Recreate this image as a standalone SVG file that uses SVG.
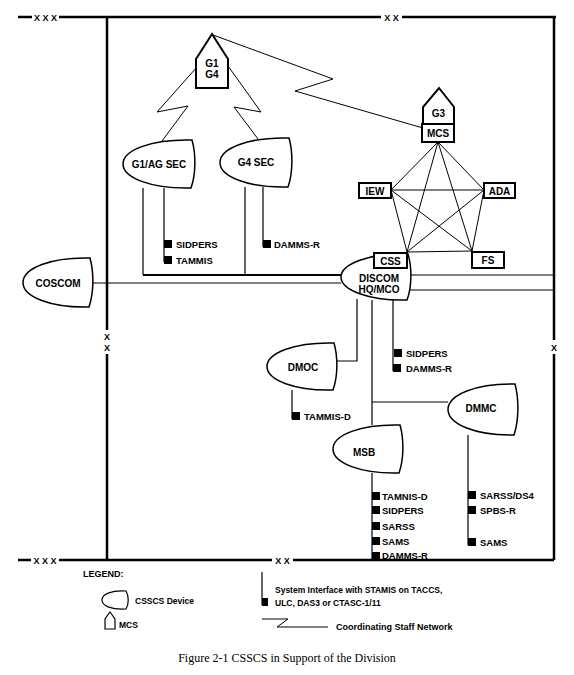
<svg xmlns="http://www.w3.org/2000/svg" width="574" height="675" viewBox="0 0 574 675">
<style>
.frame{stroke:#000;stroke-width:2.5;fill:none}
.dev{fill:#fff;stroke:#000;stroke-width:1.5}
.mcs{fill:#fff;stroke:#000;stroke-width:2}
.box{fill:#fff;stroke:#000;stroke-width:2}
.ln{stroke:#000;stroke-width:1.2;fill:none}
.lnb{stroke:#000;stroke-width:2;fill:none}
.net{stroke:#000;stroke-width:1;fill:none}
.sq{fill:#000}
.lbl{font-family:"Liberation Sans",Arial,sans-serif;font-weight:bold;font-size:9.5px;fill:#000}
.nt{font-family:"Liberation Sans",Arial,sans-serif;font-weight:bold;font-size:10px;fill:#000;text-anchor:middle}
.xm{font-family:"Liberation Sans",Arial,sans-serif;font-weight:bold;font-size:9px;fill:#000;text-anchor:middle}
.leg{font-family:"Liberation Sans",Arial,sans-serif;font-weight:bold;font-size:8.5px;fill:#000}
.cap{font-family:"Liberation Serif","Times New Roman",serif;font-size:12px;fill:#000;text-anchor:middle}
</style>
<rect width="574" height="675" fill="#fff"/>

<g id="frame">
<path class="frame" d="M18,17H32M59,17H381M402,17H556"/>
<path class="frame" d="M18,560H31M59,560H272M293,560H554"/>
<path class="frame" d="M107,17V330M107,354V560"/>
<path class="frame" d="M554,17V340M554,354V560"/>
<text class="xm" x="45.5" y="20.5">X X X</text>
<text class="xm" x="391.5" y="20.5">X X</text>
<text class="xm" x="45" y="563.5">X X X</text>
<text class="xm" x="282.5" y="563.5">X X</text>
<text class="xm" x="107" y="340">X</text>
<text class="xm" x="107" y="351">X</text>
<text class="xm" x="554" y="350.5">X</text>
</g>

<g id="connectors">
<!-- coordinating staff network -->
<path class="net" d="M213,35L333,79L295,91L423,128"/>
<path class="net" d="M197,67L157,112L188,106L162,141"/>
<path class="net" d="M228,66L261,112L234,107L258,139"/>
<!-- MCS pentagon mesh -->
<path class="net" d="M438,142L391,190M438,142L484,190M438,142L407,252M438,142L472,251M391,190L484,190M391,190L407,252M391,190L472,251M484,190L407,252M484,190L472,251M407,252L472,251"/>
<!-- staff lines -->
<path class="ln" d="M93,283H341"/>
<path class="ln" d="M143,188V275M245,187V275"/>
<path class="lnb" d="M143,275H341"/>
<path class="ln" d="M411,275H554M409,290H554"/>
<path class="ln" d="M357,299V361H337"/>
<path class="ln" d="M372,300V425M372,402H448"/>
<!-- system interfaces -->
<path class="ln" d="M164,188V262"/>
<path class="ln" d="M263,187V247"/>
<path class="ln" d="M393,300V371"/>
<path class="ln" d="M292,390V419"/>
<path class="ln" d="M372,473V560"/>
<path class="ln" d="M468,435V545"/>
</g>

<g id="coscom">
<path class="dev" d="M90,258C51,257 23,268 23,282.5C23,297 51,308 89,307C94,292 94,273 90,258Z"/>
<text class="nt" x="58" y="286.5">COSCOM</text>
</g>

<g id="g1g4">
<polygon class="mcs" points="212,34 228,59 228,88 196,88 196,59"/>
<text class="nt" x="212" y="67">G1</text>
<text class="nt" x="212" y="78">G4</text>
</g>

<g id="g1ag-sec">
<path class="dev" d="M192,140C152,139 123,150 123,164C123,178 152,189 191,188C196,174 196,154 192,140Z"/>
<text class="nt" x="159" y="168">G1/AG SEC</text>
<rect class="sq" x="164" y="240" width="8" height="8"/>
<text class="lbl" x="176" y="247.5">SIDPERS</text>
<rect class="sq" x="164" y="256" width="8" height="8"/>
<text class="lbl" x="176" y="263.5">TAMMIS</text>
</g>

<g id="g4-sec">
<path class="dev" d="M289,138C249,137 220,148 220,162.5C220,177 249,188 288,187C293,173 293,152 289,138Z"/>
<text class="nt" x="256" y="166">G4 SEC</text>
<rect class="sq" x="263" y="240" width="8" height="8"/>
<text class="lbl" x="274" y="247.5">DAMMS-R</text>
</g>

<g id="g3-mcs">
<path class="mcs" d="M439,88L454,107V124H423V107Z"/>
<rect class="box" x="422" y="124" width="32" height="18"/>
<text class="nt" x="438.5" y="117">G3</text>
<text class="nt" x="438" y="137">MCS</text>
</g>

<g id="iew">
<rect class="box" x="359" y="183" width="32" height="15"/>
<text class="nt" x="375" y="194.5">IEW</text>
</g>

<g id="ada">
<rect class="box" x="484" y="183" width="31" height="15"/>
<text class="nt" x="499.5" y="194.5">ADA</text>
</g>

<g id="discom">
<path class="dev" d="M408,254C369,253 341,264 341,277C341,290 369,301 407,300C412,287 412,267 408,254Z"/>
<text class="nt" x="379" y="281.5">DISCOM</text>
<text class="nt" x="379" y="293">HQ/MCO</text>
<rect class="sq" x="394" y="349" width="8" height="8"/>
<text class="lbl" x="406" y="356.5">SIDPERS</text>
<rect class="sq" x="393" y="364" width="8" height="8"/>
<text class="lbl" x="406" y="371.5">DAMMS-R</text>
</g>

<g id="css">
<rect class="box" x="374" y="253" width="33" height="15"/>
<text class="nt" x="390.5" y="264.5">CSS</text>
</g>

<g id="fs">
<rect class="box" x="472" y="252" width="32" height="16"/>
<text class="nt" x="488" y="264">FS</text>
</g>

<g id="dmoc">
<path class="dev" d="M334,343C295,342 267,353 267,366.5C267,380 295,391 333,390C338,376 338,357 334,343Z"/>
<text class="nt" x="303" y="370.5">DMOC</text>
<rect class="sq" x="292" y="412" width="8" height="8"/>
<text class="lbl" x="304" y="419.5">TAMMIS-D</text>
</g>

<g id="dmmc">
<path class="dev" d="M515,384C476,383 448,395 448,409.5C448,424 476,436 514,435C519,420 519,399 515,384Z"/>
<text class="nt" x="481" y="412">DMMC</text>
<rect class="sq" x="468" y="491" width="8" height="8"/>
<text class="lbl" x="480" y="498.5">SARSS/DS4</text>
<rect class="sq" x="468" y="506" width="8" height="8"/>
<text class="lbl" x="480" y="513.5">SPBS-R</text>
<rect class="sq" x="468" y="538" width="8" height="8"/>
<text class="lbl" x="480" y="545.5">SAMS</text>
</g>

<g id="msb">
<path class="dev" d="M400,425C361,424 333,435 333,449C333,463 361,474 399,473C404,459 404,439 400,425Z"/>
<text class="nt" x="364" y="455.5">MSB</text>
<rect class="sq" x="372" y="492" width="8" height="8"/>
<text class="lbl" x="382" y="499.5">TAMNIS-D</text>
<rect class="sq" x="372" y="506" width="8" height="8"/>
<text class="lbl" x="382" y="513.5">SIDPERS</text>
<rect class="sq" x="372" y="522" width="8" height="8"/>
<text class="lbl" x="382" y="529.5">SARSS</text>
<rect class="sq" x="372" y="537" width="8" height="8"/>
<text class="lbl" x="382" y="544.5">SAMS</text>
<rect class="sq" x="372" y="552" width="8" height="8"/>
<text class="lbl" x="382" y="559">DAMMS-R</text>
</g>

<g id="legend">
<text class="leg" x="83" y="577" style="font-size:9px">LEGEND:</text>
<path class="dev" d="M126,591C112,590 102,594 102,600C102,606 112,610 126,609C129,604 129,596 126,591Z" style="stroke-width:1.2"/>
<text class="leg" x="135" y="604">CSSCS Device</text>
<polygon class="dev" points="110,612 115,619 115,629 105,629 105,619" style="stroke-width:1.2"/>
<text class="leg" x="119" y="628">MCS</text>
<path class="ln" d="M262,572V605"/>
<rect class="sq" x="262" y="598" width="6" height="8"/>
<text class="leg" x="275" y="593">System Interface with STAMIS on TACCS,</text>
<text class="leg" x="275" y="606">ULC, DAS3 or CTASC-1/11</text>
<path class="net" d="M262,619H288L277,627H328"/>
<text class="leg" x="336" y="630" style="font-size:9px">Coordinating Staff Network</text>
</g>

<text class="cap" x="287" y="662">Figure 2-1 CSSCS in Support of the Division</text>
</svg>
